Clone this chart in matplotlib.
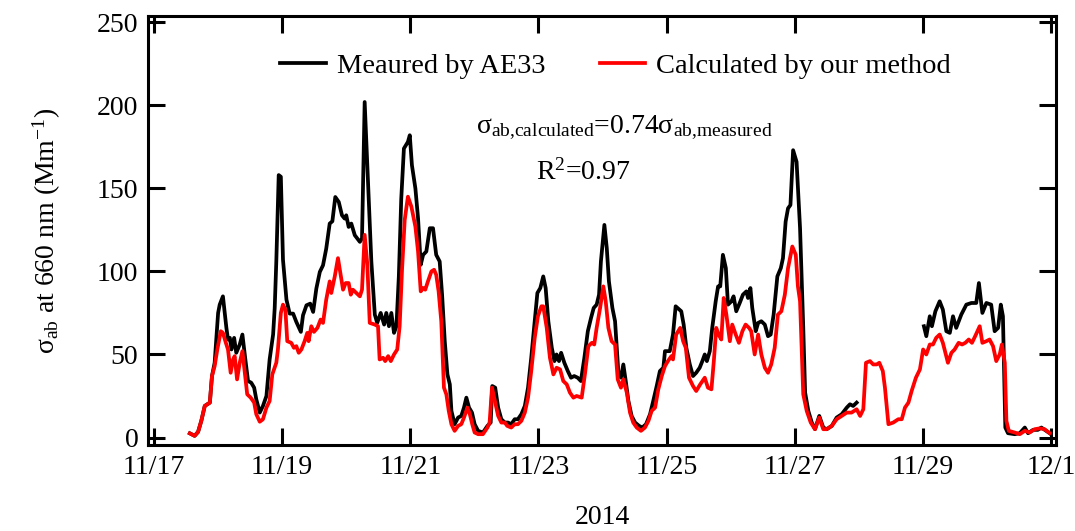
import matplotlib
matplotlib.use('Agg')

import numpy as np
import pandas as pd
import matplotlib.pyplot as plt
import matplotlib.dates as mdates

plt.rcParams['font.family'] = ['Liberation Serif', 'DejaVu Serif']
plt.rcParams['mathtext.fontset'] = 'custom'
plt.rcParams['mathtext.rm'] = 'Liberation Serif'
plt.rcParams['mathtext.it'] = 'Liberation Serif:italic'

start = pd.Timestamp('2014-11-17')

# hours after 2014-11-17 00:00, absorption coefficient in Mm-1
meas_hours = [
    13.4, 15.2, 16.5, 17.7, 19.0, 20.9, 21.7, 22.7, 24.0, 24.6, 25.8, 27.1, 27.7, 28.4, 29.0,
    30.0, 30.8, 32.1, 33.1, 34.2, 35.2, 36.4, 37.5, 38.3, 39.6, 40.8, 42.1, 43.3, 44.6, 45.2,
    45.8, 46.7, 47.5, 48.3, 49.6, 50.8, 52.1, 53.3, 55.0, 55.8, 57.1, 58.5, 59.6, 60.8, 62.1,
    63.3, 64.5, 65.8, 66.8, 67.9, 69.2, 70.4, 71.4, 72.0, 72.9, 73.9, 75.2, 77.1, 77.9, 78.9,
    80.2, 81.4, 82.7, 83.6, 84.9, 86.2, 87.0, 88.0, 88.9, 89.9, 90.8, 91.7, 92.6, 93.6, 95.1,
    95.8, 96.6, 97.9, 98.9, 99.9, 100.8, 102.0, 103.3, 104.5, 105.7, 107.0, 107.9, 108.9, 109.9,
    110.8, 111.4, 112.6, 113.9, 115.1, 116.1, 117.0, 118.0, 119.1, 120.1, 121.4, 123.2, 124.9,
    126.1, 126.7, 127.8, 128.9, 130.1, 131.4, 132.6, 133.8, 135.1, 136.3, 137.6, 138.9, 140.1,
    141.3, 142.6, 143.6, 144.7, 145.8, 146.7, 147.7, 149.0, 150.0, 150.8, 151.7, 152.5, 153.7,
    155.0, 156.2, 157.4, 158.7, 159.9, 161.2, 162.5, 163.7, 164.7, 165.8, 166.7, 167.4, 168.7,
    169.6, 170.4, 171.7, 172.7, 173.9, 174.9, 175.8, 176.7, 177.7, 178.9, 180.2, 181.7, 182.9,
    184.3, 185.8, 187.0, 188.3, 189.5, 190.8, 191.4, 193.2, 194.4, 195.4, 197.5, 198.4, 199.4,
    200.7, 201.9, 203.1, 204.4, 205.4, 206.3, 207.1, 208.2, 209.1, 210.4, 211.3, 212.1, 213.1,
    214.2, 215.0, 216.3, 217.1, 218.1, 219.4, 220.6, 221.9, 222.5, 223.4, 224.1, 225.4, 226.3,
    227.5, 228.8, 230.0, 231.0, 232.1, 233.5, 234.8, 235.6, 236.6, 237.5, 238.4, 239.4, 240.7,
    242.0, 243.2, 243.9, 245.1, 246.4, 247.6, 249.2, 250.7, 252.0, 253.9, 255.7, 257.6, 259.5,
    260.7, 261.9, 263.2, 275.0,
    288.4, 289.3, 290.6, 291.4, 292.7, 294.3, 295.5, 296.8, 298.1, 299.3, 300.5, 302.4, 304.3,
    306.2, 308.0, 309.0, 310.3, 311.8, 313.6, 314.9, 316.2, 317.2, 318.0, 318.9, 319.9, 322.4,
    324.3, 326.2, 327.4, 329.3, 331.1, 332.4, 334.2, 335.5,
]
meas_vals = [
    2.5, 1, 3.4, 10, 19, 21, 37, 45, 75, 80, 85, 66, 59, 60, 53,
    60, 51, 56, 62, 47, 34, 33, 30, 23, 15, 19, 25, 47, 62, 78,
    106, 158, 157, 107, 83, 74.6, 74.6, 69.6, 63.6, 73.6, 79.6, 80.6, 75.6, 89.7, 99.7,
    103.7, 113.7, 128.8, 130.2, 144.8, 141.8, 133.8, 131.8, 133.8, 126.8, 128.8, 121.8, 117.8, 119.8, 202,
    152, 106, 74, 69, 75, 68, 75, 67, 75, 63, 67, 97, 143.6, 174, 178,
    182, 164, 150, 132, 104, 110, 112, 126, 126, 110, 106, 86, 58, 38,
    32, 16, 8, 12, 13, 18, 24, 18, 15, 8, 4, 3, 7,
    9, 31, 30, 18, 11, 9, 9, 8, 11, 11, 14, 19, 30,
    48, 70, 87, 90, 97, 90, 70, 54, 46, 50, 46, 51, 45,
    40, 36, 37, 36, 34, 48, 64, 72, 78, 80, 86, 106, 128,
    114, 94, 78, 70, 40, 36, 44, 34, 22, 13, 9, 7, 6,
    8, 14, 22, 31, 40, 42, 52, 52, 62, 79, 76, 68, 54,
    44, 37, 39, 42, 46, 50, 46, 52, 66, 82, 91, 91, 110,
    102, 80, 82, 85, 76, 81, 86, 88, 84, 90, 78, 64, 69,
    70, 68, 61, 62, 74, 97, 102, 108, 130, 138, 140, 173, 166,
    126, 66, 27, 16, 9, 5, 13, 6, 5, 7, 12, 14, 18,
    20, 19, 21, np.nan,
    67, 61, 73, 67, 76, 82, 77, 64, 63, 73, 66, 74, 80,
    81, 81, 93, 75, 81, 80, 64, 66, 80, 73, 6, 2.6, 2,
    2.6, 6, 2.6, 4.6, 4.6, 6, 4, 2.6,
]

calc_hours = [
    13.4, 15.2, 16.5, 17.7, 19.0, 20.9, 21.7, 22.7, 23.7, 25.0, 25.8, 26.9, 27.7, 28.7, 29.6,
    30.2, 31.1, 32.1, 33.1, 34.0, 34.9, 36.2, 37.5, 38.3, 39.6, 40.8, 42.1, 43.3, 44.3, 45.8,
    46.4, 47.5, 48.3, 49.2, 49.9, 51.4, 52.4, 53.3, 54.2, 55.2, 56.4, 57.4, 57.9, 58.9, 59.9,
    61.2, 62.4, 63.3, 64.5, 65.8, 66.4, 67.7, 68.9, 69.9, 70.8, 71.8, 72.9, 73.7, 74.5, 75.8,
    77.1, 77.9, 78.9, 79.9, 80.8, 82.7, 83.9, 84.5, 85.8, 86.6, 87.7, 88.7, 89.9, 91.1, 92.0,
    92.9, 93.9, 95.1, 96.4, 97.9, 98.9, 99.9, 100.8, 101.6, 102.6, 103.9, 104.9, 105.7, 106.6,
    107.6, 108.6, 109.5, 110.4, 111.4, 112.6, 113.9, 115.1, 116.1, 117.4, 118.3, 119.2, 120.1,
    121.4, 123.2, 124.9, 125.7, 126.6, 127.8, 128.9, 130.1, 131.4, 132.3, 133.8, 135.1, 136.3,
    137.6, 138.9, 140.1, 141.3, 142.6, 143.8, 145.1, 145.8, 147.1, 148.3, 149.6, 150.8, 152.1,
    153.3, 154.6, 155.8, 157.1, 158.3, 160.2, 161.4, 162.7, 164.0, 164.9, 165.8, 167.1, 168.3,
    169.2, 170.2, 171.4, 172.7, 173.7, 174.9, 175.8, 177.1, 178.3, 179.5, 180.8, 182.4, 183.9,
    185.2, 186.4, 187.7, 188.9, 190.2, 191.4, 192.5, 193.8, 194.4, 195.6, 197.1, 198.2, 199.2,
    200.4, 201.9, 203.1, 204.6, 206.3, 207.5, 208.8, 209.7, 210.6, 211.5, 212.5, 213.4, 214.4,
    215.7, 216.6, 217.9, 219.1, 220.4, 221.6, 222.9, 223.7, 225.0, 226.3, 227.5, 228.8, 230.0,
    231.2, 232.5, 233.7, 235.0, 236.3, 237.5, 239.1, 240.4, 241.2, 242.0, 243.2, 244.5, 246.0,
    247.6, 249.2, 250.7, 252.0, 253.9, 255.7, 257.6, 259.5, 261.3, 263.2, 264.5, 265.7, 266.7,
    268.2, 269.4, 270.7, 271.7, 273.0, 273.8, 275.1, 276.9, 278.8, 280.1, 281.3, 282.6, 283.8,
    285.4, 286.9, 288.1, 289.3, 290.6, 291.8, 293.0, 294.3, 295.5, 297.4, 298.7, 299.9, 301.4,
    302.7, 303.9, 305.2, 306.4, 307.6, 309.3, 310.3, 311.8, 313.0, 314.3, 315.5, 316.8, 317.6,
    318.7, 319.3, 320.2, 322.4, 324.3, 326.2, 328.0, 329.9, 331.8, 333.6, 335.5,
]
calc_vals = [
    2.5, 1, 3.4, 10, 19, 21, 37, 43, 53, 64, 63, 57, 53, 39, 47,
    49, 35, 45, 52, 39, 26, 24, 21, 14, 9.5, 11, 18, 22, 38, 45,
    53, 75, 80, 77, 58, 57, 54, 55, 51, 53, 58, 63, 58, 67, 63.6,
    66, 71, 69, 83, 94, 87, 97, 108, 98, 89, 93, 93, 86, 89, 87,
    85, 89, 122, 104, 69, 68, 67, 47, 48, 46, 49, 46, 50, 53, 67,
    101, 131, 145, 139, 127, 112, 88, 90, 89, 94, 100, 101, 98, 88,
    70, 30, 26, 16, 8, 4, 7, 8, 12, 18, 14, 8, 3,
    2, 2, 6, 9, 30, 21, 13, 9, 9, 7, 6, 8, 8,
    10, 15, 24, 40, 60, 73, 79, 79, 66, 48, 38, 42, 41,
    34, 32, 27, 24, 25, 24, 38, 55, 57, 56, 66, 78, 91,
    82, 66, 58, 56, 35, 30, 35, 27, 15, 9, 6, 4, 6,
    10, 16, 18, 29, 37, 43, 46, 49, 47, 62, 66, 58, 54,
    36, 31, 28, 32, 36, 30, 29, 46, 66, 62, 59, 84, 74,
    58, 68, 62, 57, 64, 68, 66, 64, 50, 62, 50, 42, 39,
    44, 54, 74, 76, 86, 102, 115, 110, 91, 82, 26, 16, 9,
    5, 12, 5, 5, 7, 11, 13, 15, 15, 17, 13, 17, 45,
    46, 44, 44, 45, 40, 30, 8, 9, 11, 11, 18, 21, 28,
    36, 41, 53, 50, 56, 56, 60, 62, 57, 45, 51, 53, 57,
    56, 57, 59, 57, 61, 67, 57, 58, 59, 55, 46, 50, 56,
    45, 10, 4, 3, 2, 4, 3, 5, 5.5, 5, 2.6,
]

tick_dates = ['2014-11-17', '2014-11-19', '2014-11-21', '2014-11-23',
              '2014-11-25', '2014-11-27', '2014-11-29', '2014-12-01']
tick_labels = ['11/17', '11/19', '11/21', '11/23', '11/25', '11/27', '11/29', '12/1']
y_ticks = [0, 50, 100, 150, 200, 250]

t_meas = start + pd.to_timedelta(meas_hours, unit='h')
t_calc = start + pd.to_timedelta(calc_hours, unit='h')

fig = plt.figure(figsize=(10.75, 5.31), dpi=100)
ax = fig.add_axes([0.1377, 0.162, 0.8446, 0.8079])

ax.plot(t_meas, meas_vals, color='black', lw=2.7, label='Meaured by AE33')
ax.plot(t_calc, calc_vals, color='red', lw=2.7, label='Calculated by our method')

t0 = mdates.date2num(start)
ax.set_xlim(t0 - 0.094, t0 + 14.078)
ax.set_ylim(-4.5, 253.8)
ax.set_xticks(mdates.date2num(pd.to_datetime(tick_dates)))
ax.set_xticklabels(tick_labels)
ax.set_yticks(y_ticks)

ax.tick_params(direction='in', length=12, width=2.2, top=True, right=True,
               labelsize=20, pad=7)
for s in ax.spines.values():
    s.set_linewidth(2.2)

ax.set_xlabel('2014', fontsize=20, labelpad=18)
ax.set_ylabel('σ$_{\\mathrm{ab}}$ at 660 nm (Mm$^{\\mathrm{-1}}$)', fontsize=20, labelpad=24)

ax.legend(loc='center', bbox_to_anchor=(0.515, 0.883), ncol=2, frameon=False,
          fontsize=20.5, handlelength=1.6, handletextpad=0.4, columnspacing=1.9)

ax.text(0.525, 0.739, 'σ$_{\\mathrm{ab{,}calculated}}$=0.74σ$_{\\mathrm{ab{,}measured}}$',
        transform=ax.transAxes, ha='center', va='center', fontsize=20)
ax.text(0.479, 0.636, 'R$^{\\mathrm{2}}$=0.97',
        transform=ax.transAxes, ha='center', va='center', fontsize=20)

fig.savefig('out.png', dpi=100)
